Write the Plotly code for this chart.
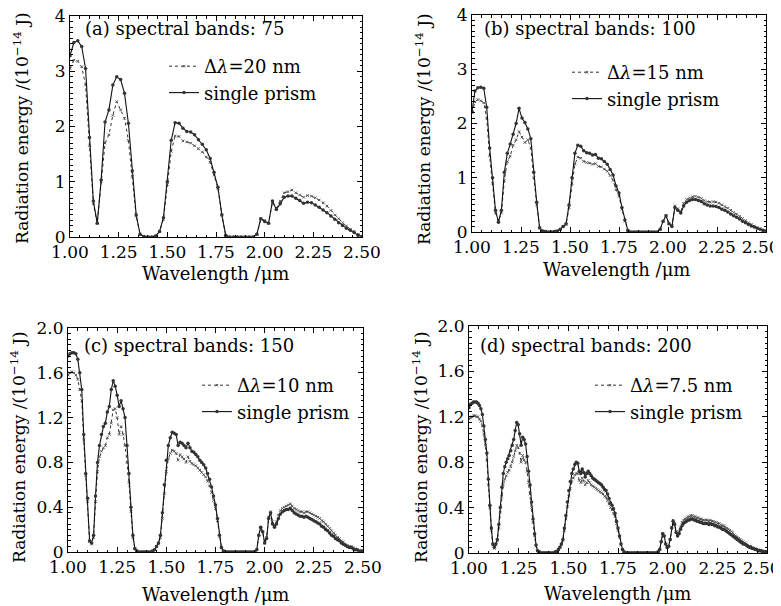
import numpy as np
import plotly.graph_objects as go

# ---- data (radiation energy, 1e-14 J) ----
# (a) 75 spectral bands, 1.00-2.50 um
a_prism = [3.28, 3.52, 3.55, 3.45, 3.05, 1.80, 0.65, 0.25, 1.03, 2.08,
           2.30, 2.75, 2.90, 2.85, 2.60, 2.06, 1.20, 0.40, 0.05, 0.01,
           0.00, 0.00, 0.02, 0.10, 0.35, 1.00, 1.75, 2.07, 2.06, 1.97,
           1.91, 1.90, 1.85, 1.76, 1.68, 1.58, 1.42, 1.17, 0.90, 0.40,
           0.03, 0.00, 0.00, 0.00, 0.00, 0.00, 0.00, 0.00, 0.05, 0.33,
           0.28, 0.25, 0.65, 0.50, 0.60, 0.72, 0.74, 0.74, 0.70, 0.66,
           0.61, 0.63, 0.62, 0.58, 0.54, 0.49, 0.44, 0.38, 0.32, 0.26,
           0.21, 0.16, 0.12, 0.08, 0.03, 0.01]
a_dlam = [3.05, 3.20, 3.18, 3.08, 2.75, 1.65, 0.60, 0.25, 1.00, 1.70,
          1.85, 2.20, 2.45, 2.30, 2.15, 1.75, 1.10, 0.38, 0.05, 0.01,
          0.00, 0.00, 0.02, 0.10, 0.32, 0.95, 1.55, 1.83, 1.82, 1.74,
          1.72, 1.70, 1.65, 1.60, 1.54, 1.45, 1.35, 1.12, 0.88, 0.40,
          0.03, 0.00, 0.00, 0.00, 0.00, 0.00, 0.00, 0.00, 0.05, 0.33,
          0.30, 0.25, 0.63, 0.52, 0.65, 0.80, 0.82, 0.85, 0.80, 0.76,
          0.72, 0.75, 0.74, 0.71, 0.67, 0.62, 0.56, 0.48, 0.40, 0.33,
          0.26, 0.20, 0.14, 0.10, 0.05, 0.01]

# (b) 100 spectral bands
b_prism = [2.22, 2.60, 2.66, 2.67, 2.65, 2.30, 1.55, 1.00, 0.40, 0.18,
           0.40, 1.10, 1.45, 1.62, 1.80, 2.00, 2.28, 2.10, 2.02, 1.90,
           1.72, 1.10, 0.55, 0.08, 0.02, 0.01, 0.00, 0.00, 0.01, 0.02,
           0.05, 0.10, 0.15, 0.50, 1.00, 1.45, 1.60, 1.58, 1.50, 1.46,
           1.45, 1.42, 1.43, 1.36, 1.35, 1.30, 1.25, 1.15, 1.05, 0.85,
           0.72, 0.45, 0.22, 0.03, 0.00, 0.00, 0.00, 0.00, 0.00, 0.00,
           0.00, 0.00, 0.00, 0.00, 0.05, 0.20, 0.30, 0.15, 0.10, 0.45,
           0.40, 0.35, 0.48, 0.55, 0.58, 0.60, 0.60, 0.58, 0.56, 0.52,
           0.50, 0.48, 0.48, 0.47, 0.45, 0.42, 0.40, 0.37, 0.33, 0.30,
           0.27, 0.24, 0.20, 0.17, 0.14, 0.11, 0.09, 0.07, 0.05, 0.03,
           0.02]
b_dlam = [2.20, 2.40, 2.44, 2.42, 2.38, 2.10, 1.40, 0.90, 0.35, 0.20,
          0.35, 0.95, 1.30, 1.40, 1.60, 1.70, 1.85, 1.75, 1.65, 1.70,
          1.55, 1.00, 0.50, 0.07, 0.02, 0.01, 0.00, 0.00, 0.01, 0.02,
          0.05, 0.10, 0.14, 0.45, 0.90, 1.25, 1.38, 1.36, 1.30, 1.28,
          1.27, 1.25, 1.26, 1.21, 1.20, 1.16, 1.12, 1.04, 0.95, 0.78,
          0.66, 0.42, 0.20, 0.03, 0.00, 0.00, 0.00, 0.00, 0.00, 0.00,
          0.00, 0.00, 0.00, 0.00, 0.05, 0.20, 0.30, 0.16, 0.12, 0.48,
          0.43, 0.38, 0.53, 0.60, 0.63, 0.65, 0.66, 0.64, 0.62, 0.58,
          0.56, 0.55, 0.56, 0.55, 0.53, 0.50, 0.47, 0.44, 0.40, 0.36,
          0.33, 0.29, 0.25, 0.21, 0.17, 0.14, 0.11, 0.08, 0.06, 0.03,
          0.02]

# (c) 150 spectral bands
c_prism = [1.75, 1.77, 1.78, 1.78, 1.77, 1.72, 1.60, 1.45, 1.05, 0.70,
           0.48, 0.10, 0.08, 0.15, 0.50, 0.80, 0.95, 1.05, 1.12, 1.15,
           1.25, 1.30, 1.45, 1.53, 1.48, 1.40, 1.30, 1.35, 1.28, 1.20,
           0.95, 0.70, 0.40, 0.15, 0.03, 0.01, 0.00, 0.00, 0.00, 0.00,
           0.00, 0.00, 0.00, 0.01, 0.02, 0.05, 0.08, 0.15, 0.35, 0.60,
           0.82, 0.95, 1.02, 1.07, 1.06, 1.05, 0.95, 0.98, 0.97, 0.95,
           0.93, 0.97, 0.93, 0.90, 0.89, 0.87, 0.85, 0.82, 0.80, 0.78,
           0.75, 0.70, 0.65, 0.58, 0.50, 0.42, 0.30, 0.15, 0.04, 0.01,
           0.00, 0.00, 0.00, 0.00, 0.00, 0.00, 0.00, 0.00, 0.00, 0.00,
           0.00, 0.00, 0.00, 0.00, 0.00, 0.00, 0.02, 0.15, 0.22, 0.18,
           0.08, 0.12, 0.30, 0.35, 0.25, 0.22, 0.25, 0.30, 0.34, 0.36,
           0.37, 0.38, 0.38, 0.39, 0.37, 0.35, 0.34, 0.33, 0.32, 0.32,
           0.31, 0.32, 0.31, 0.30, 0.29, 0.28, 0.27, 0.26, 0.25, 0.23,
           0.22, 0.20, 0.19, 0.17, 0.15, 0.14, 0.12, 0.11, 0.10, 0.08,
           0.07, 0.06, 0.05, 0.04, 0.04, 0.03, 0.02, 0.02, 0.01, 0.01,
           0.01]
c_dlam = [1.58, 1.60, 1.61, 1.60, 1.58, 1.54, 1.45, 1.35, 1.00, 0.68,
          0.45, 0.09, 0.07, 0.13, 0.45, 0.72, 0.85, 0.90, 0.93, 0.95,
          1.02, 1.05, 1.15, 1.27, 1.28, 1.20, 1.05, 1.12, 1.05, 0.95,
          0.80, 0.62, 0.36, 0.13, 0.03, 0.01, 0.00, 0.00, 0.00, 0.00,
          0.00, 0.00, 0.00, 0.01, 0.02, 0.05, 0.07, 0.13, 0.30, 0.52,
          0.72, 0.83, 0.88, 0.91, 0.90, 0.88, 0.82, 0.87, 0.85, 0.83,
          0.80, 0.85, 0.81, 0.79, 0.78, 0.77, 0.75, 0.73, 0.71, 0.69,
          0.67, 0.63, 0.59, 0.53, 0.46, 0.39, 0.28, 0.14, 0.04, 0.01,
          0.00, 0.00, 0.00, 0.00, 0.00, 0.00, 0.00, 0.00, 0.00, 0.00,
          0.00, 0.00, 0.00, 0.00, 0.00, 0.00, 0.02, 0.15, 0.22, 0.18,
          0.08, 0.13, 0.31, 0.36, 0.27, 0.24, 0.27, 0.33, 0.37, 0.39,
          0.40, 0.41, 0.42, 0.43, 0.41, 0.39, 0.38, 0.37, 0.36, 0.36,
          0.35, 0.36, 0.36, 0.35, 0.34, 0.33, 0.32, 0.31, 0.30, 0.28,
          0.27, 0.25, 0.23, 0.21, 0.19, 0.17, 0.15, 0.13, 0.12, 0.10,
          0.09, 0.07, 0.06, 0.05, 0.05, 0.04, 0.03, 0.02, 0.01, 0.01,
          0.01]

# (d) 200 spectral bands
d_prism = [1.28, 1.31, 1.32, 1.33, 1.33, 1.33, 1.32, 1.30, 1.27, 1.22,
           1.12, 1.00, 0.88, 0.65, 0.42, 0.22, 0.08, 0.05, 0.08, 0.12,
           0.25, 0.40, 0.58, 0.70, 0.76, 0.80, 0.83, 0.86, 0.90, 0.95,
           1.00, 1.08, 1.15, 1.13, 1.05, 0.95, 1.02, 1.00, 0.96, 0.85,
           0.72, 0.60, 0.45, 0.30, 0.17, 0.07, 0.02, 0.01, 0.00, 0.00,
           0.00, 0.00, 0.00, 0.00, 0.00, 0.00, 0.00, 0.00, 0.01, 0.01,
           0.03, 0.05, 0.08, 0.12, 0.22, 0.33, 0.45, 0.55, 0.63, 0.70,
           0.74, 0.78, 0.80, 0.79, 0.72, 0.70, 0.74, 0.71, 0.67, 0.70,
           0.72, 0.70, 0.68, 0.66, 0.65, 0.64, 0.63, 0.62, 0.61, 0.60,
           0.58, 0.56, 0.55, 0.52, 0.48, 0.44, 0.42, 0.39, 0.35, 0.28,
           0.22, 0.15, 0.08, 0.03, 0.01, 0.00, 0.00, 0.00, 0.00, 0.00,
           0.00, 0.00, 0.00, 0.00, 0.00, 0.00, 0.00, 0.00, 0.00, 0.00,
           0.00, 0.00, 0.00, 0.00, 0.00, 0.00, 0.00, 0.01, 0.03, 0.10,
           0.17, 0.15, 0.08, 0.05, 0.06, 0.12, 0.22, 0.28, 0.25, 0.18,
           0.15, 0.17, 0.21, 0.24, 0.26, 0.27, 0.28, 0.29, 0.29, 0.30,
           0.30, 0.29, 0.29, 0.28, 0.28, 0.27, 0.27, 0.26, 0.26, 0.26,
           0.26, 0.25, 0.26, 0.25, 0.25, 0.24, 0.24, 0.23, 0.23, 0.22,
           0.21, 0.21, 0.20, 0.19, 0.18, 0.17, 0.16, 0.15, 0.14, 0.13,
           0.12, 0.11, 0.10, 0.09, 0.08, 0.08, 0.07, 0.06, 0.05, 0.05,
           0.04, 0.04, 0.03, 0.03, 0.02, 0.02, 0.02, 0.01, 0.01, 0.01,
           0.01]
d_dlam = [1.18, 1.19, 1.20, 1.21, 1.21, 1.20, 1.20, 1.18, 1.16, 1.12,
          1.05, 0.95, 0.82, 0.60, 0.40, 0.20, 0.07, 0.04, 0.07, 0.11,
          0.22, 0.36, 0.50, 0.60, 0.65, 0.68, 0.71, 0.73, 0.76, 0.80,
          0.85, 0.90, 0.95, 0.93, 0.88, 0.80, 0.86, 0.82, 0.80, 0.72,
          0.62, 0.52, 0.40, 0.27, 0.15, 0.06, 0.02, 0.01, 0.00, 0.00,
          0.00, 0.00, 0.00, 0.00, 0.00, 0.00, 0.00, 0.00, 0.01, 0.01,
          0.03, 0.05, 0.07, 0.11, 0.20, 0.30, 0.41, 0.50, 0.57, 0.63,
          0.66, 0.69, 0.70, 0.70, 0.64, 0.62, 0.66, 0.63, 0.60, 0.62,
          0.64, 0.62, 0.60, 0.59, 0.58, 0.57, 0.56, 0.55, 0.54, 0.53,
          0.52, 0.50, 0.49, 0.46, 0.43, 0.40, 0.38, 0.35, 0.32, 0.26,
          0.20, 0.14, 0.07, 0.03, 0.01, 0.00, 0.00, 0.00, 0.00, 0.00,
          0.00, 0.00, 0.00, 0.00, 0.00, 0.00, 0.00, 0.00, 0.00, 0.00,
          0.00, 0.00, 0.00, 0.00, 0.00, 0.00, 0.00, 0.01, 0.03, 0.10,
          0.17, 0.15, 0.08, 0.05, 0.06, 0.12, 0.23, 0.29, 0.26, 0.19,
          0.17, 0.19, 0.23, 0.27, 0.29, 0.30, 0.31, 0.32, 0.32, 0.33,
          0.33, 0.32, 0.32, 0.31, 0.31, 0.30, 0.30, 0.29, 0.29, 0.29,
          0.29, 0.28, 0.29, 0.28, 0.28, 0.27, 0.27, 0.26, 0.26, 0.25,
          0.24, 0.24, 0.23, 0.22, 0.21, 0.20, 0.19, 0.18, 0.16, 0.15,
          0.14, 0.13, 0.12, 0.11, 0.10, 0.09, 0.08, 0.07, 0.06, 0.06,
          0.05, 0.04, 0.04, 0.03, 0.03, 0.02, 0.02, 0.02, 0.01, 0.01,
          0.01]

panels = [
    ("a", 75, "20", a_prism, a_dlam),
    ("b", 100, "15", b_prism, b_dlam),
    ("c", 150, "10", c_prism, c_dlam),
    ("d", 200, "7.5", d_prism, d_dlam),
]

FONT = "DejaVu Serif"
FS = 18
TFS = 17                      # tick label size
OFF = 8                       # page body margin
W, H = 781 - OFF, 606 - OFF   # figure runs to the window edge

# layout positions measured on the 781x606 picture
boxes = [(70, 362, 16, 237), (472, 766, 15, 232),
         (68, 363, 328, 552), (469, 767, 326, 553)]
legend_pos = [(164, 48), (567, 54), (197, 367), (590, 367)]
label_pos = [(83, 29), (482, 29), (82, 345), (478, 345)]
xtitle_pos = [(215, 273), (616, 269), (215, 594), (617, 593)]
ytitle_pos = [(21, 128), (423, 129), (18, 447), (420, 447)]

xticks = [1.0, 1.25, 1.5, 1.75, 2.0, 2.25, 2.5]
xlabels = ["1.00", "1.25", "1.50", "1.75", "2.00", "2.25", "2.50"]
# right-hand panels: pad the last label so it stays inside the window
xlabels_right = xlabels[:-1] + ["2.50\u00a0\u00a0"]


def px(x):
    return (x - OFF) / W


def py(y):
    return 1 - (y - OFF) / H


fig = go.Figure()
annotations = []
layout = {}

for i, (tag, nb, dl, prism, dlam) in enumerate(panels):
    n = i + 1
    sfx = "" if n == 1 else str(n)
    wl = np.round(np.linspace(1.0, 2.5, len(prism)), 4)
    leg = "legend" if n == 1 else "legend%d" % n

    fig.add_trace(go.Scatter(
        x=wl, y=dlam, mode="lines+markers", name="Δ<i>λ</i>=%s nm" % dl,
        line=dict(color="#333333", width=1, dash="dot"),
        marker=dict(symbol="x-thin", size=2.5, line=dict(color="#555555", width=1)),
        xaxis="x" + sfx, yaxis="y" + sfx, legend=leg))
    fig.add_trace(go.Scatter(
        x=wl, y=prism, mode="lines+markers", name="single prism",
        line=dict(color="#111111", width=1.1),
        marker=dict(symbol="circle", size=3.5, color="#333333"),
        xaxis="x" + sfx, yaxis="y" + sfx, legend=leg))

    l, r, t, b = boxes[i]
    big = n <= 2
    layout["xaxis" + sfx] = dict(
        domain=[px(l), px(r)], anchor="y" + sfx, range=[1.0, 2.5],
        automargin=False, ticklabeloverflow="allow",
        tickvals=xticks,
        ticktext=xlabels_right if n % 2 == 0 else xlabels,
        ticks="inside", ticklen=5, tickcolor="black", mirror="allticks",
        showline=True, linecolor="black", linewidth=1, showgrid=False, zeroline=False,
        minor=dict(dtick=0.05, ticks="inside", ticklen=2.5, tickcolor="black"),
        tickfont=dict(family=FONT, size=TFS, color="black"))
    layout["yaxis" + sfx] = dict(
        domain=[py(b), py(t)], anchor="x" + sfx,
        automargin=False, ticklabeloverflow="allow",
        range=[0, 4] if big else [0, 2.0],
        tickvals=[0, 1, 2, 3, 4] if big else [0, 0.4, 0.8, 1.2, 1.6, 2.0],
        ticktext=["0", "1", "2", "3", "4"] if big else ["0", "0.4", "0.8", "1.2", "1.6", "2.0"],
        ticks="inside", ticklen=5, tickcolor="black", mirror="allticks",
        showline=True, linecolor="black", linewidth=1, showgrid=False, zeroline=False,
        minor=dict(dtick=0.1 if big else 0.05, ticks="inside", ticklen=2.5, tickcolor="black"),
        tickfont=dict(family=FONT, size=TFS, color="black"))

    lx, ly = legend_pos[i]
    layout[leg] = dict(x=px(lx), y=py(ly), xanchor="left", yanchor="top",
                       bgcolor="rgba(0,0,0,0)", borderwidth=0,
                       font=dict(family=FONT, size=FS, color="black"),
                       tracegroupgap=0, itemwidth=30)

    ax, ay = label_pos[i]
    annotations.append(dict(text="(%s) spectral bands: %d" % (tag, nb),
                            x=px(ax), y=py(ay), xref="paper", yref="paper",
                            xanchor="left", yanchor="middle", showarrow=False,
                            font=dict(family=FONT, size=FS, color="black")))
    tx, ty = xtitle_pos[i]
    annotations.append(dict(text="Wavelength /μm", x=px(tx), y=py(ty),
                            xref="paper", yref="paper", xanchor="center", yanchor="middle",
                            showarrow=False, font=dict(family=FONT, size=FS, color="black")))
    yx, yy = ytitle_pos[i]
    annotations.append(dict(text="Radiation energy /(10<sup>−14</sup> J)",
                            x=px(yx), y=py(yy), xref="paper", yref="paper",
                            xanchor="center", yanchor="middle", textangle=-90,
                            showarrow=False, font=dict(family=FONT, size=17, color="black")))

fig.update_layout(
    width=W, height=H, margin=dict(l=0, r=0, t=0, b=0),
    paper_bgcolor="white", plot_bgcolor="white",
    showlegend=True, annotations=annotations, **layout)

fig.write_html("out.html")
